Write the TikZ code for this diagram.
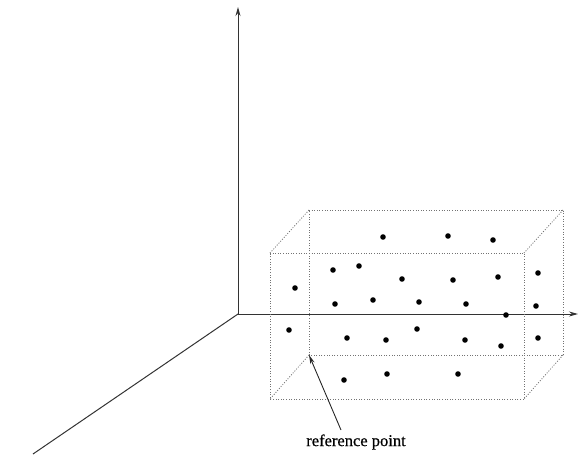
\documentclass[tikz,border=0pt]{standalone}
\usepackage{fontspec}
\setmainfont{Liberation Serif}
\newfontfamily\labelfont[FakeBold=0.6]{Liberation Serif}
\usetikzlibrary{arrows.meta}
\begin{document}
\begin{tikzpicture}[x=1pt,y=-1pt,
  axis/.style={line width=1pt,black!80},
  boxline/.style={line width=0.8pt,black!55,dash pattern=on 1pt off 1.6pt},
  pt/.style={circle,fill=black,inner sep=0pt,minimum size=5.6pt},
  tipa/.style={-{Stealth[length=9pt,width=5pt]}}]
\useasboundingbox (0,0) rectangle (579,456);
% axes
\coordinate (O) at (238,314);
\coordinate (Y) at (238,7);
\coordinate (X) at (578,314);
\coordinate (Z) at (33,454);
\draw[axis,tipa] (O) -- (Y);
\draw[axis,tipa] (O) -- (X);
\draw[axis] (O) -- (Z);
% box corners: back (b) and front (f)
\coordinate (b1) at (309,210);
\coordinate (b2) at (563,210);
\coordinate (b3) at (563,355);
\coordinate (b4) at (309,355);
\coordinate (f1) at (270,253);
\coordinate (f2) at (524,253);
\coordinate (f3) at (524,399);
\coordinate (f4) at (270,399);
\draw[boxline] (b1) -- (b2) -- (b3) -- (b4) -- cycle;
\draw[boxline] (f1) -- (f2) -- (f3) -- (f4) -- cycle;
\draw[boxline] (b1) -- (f1);
\draw[boxline] (b2) -- (f2);
\draw[boxline] (b3) -- (f3);
\draw[boxline] (b4) -- (f4);
% points
\foreach \i/\p in {1/{383,237},2/{448,236},3/{493,240},4/{333,270},5/{359,266},
  6/{402,279},7/{453,280},8/{498,277},9/{538,273},10/{295,288},11/{335,304},
  12/{373,300},13/{419,302},14/{466,304},15/{536,306},16/{506,315},17/{289,330},
  18/{347,338},19/{386,340},20/{417,329},21/{465,340},22/{501,346},23/{538,338},
  24/{344,380},25/{387,374},26/{458,374}}
  \node[pt] (p\i) at (\p) {};
% label
\node[font=\labelfont\fontsize{16.5}{19}\selectfont,inner sep=1pt] (ref) at (356,442) {reference point};
\coordinate (reft) at (341,430);
\draw[line width=0.9pt,black!85,-{Stealth[length=9pt,width=4.5pt]}] (reft) -- (b4);
\end{tikzpicture}
\end{document}
